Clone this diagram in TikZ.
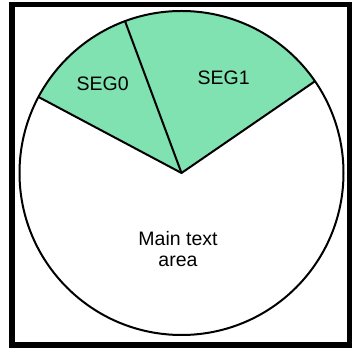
\documentclass[tikz,border=0pt]{standalone}
\usepackage{fontspec}
\setmainfont{Liberation Sans}
\usetikzlibrary{calc}
\definecolor{segfill}{RGB}{128,226,176}
\begin{document}
\begin{tikzpicture}[x=1pt,y=1pt,
  outline/.style={draw=black,line width=2pt,line join=round},
  label/.style={font=\fontsize{19.5}{20.5}\selectfont,inner sep=0pt,align=center}]
\useasboundingbox (0,0) rectangle (357,350);
% outer frame
\draw[line width=5.5pt] (12,5) rectangle (349.5,345.5);
% circle and segment boundaries
\coordinate (c) at (181.5,177);
\def\rad{162}
\fill[segfill] (c) -- ++(34.5:\rad) arc[start angle=34.5,end angle=152,radius=\rad] -- cycle;
\draw[outline] (c) circle[radius=\rad];
\coordinate (pL) at ($(c)+(152:\rad)$);
\coordinate (pT) at ($(c)+(110.4:\rad)$);
\coordinate (pR) at ($(c)+(34.5:\rad)$);
\draw[outline] (pL) -- (c) -- (pR);
\draw[outline] (c) -- (pT);
% labels
\node[label] (seg0) at (102.7,266.7) {SEG0};
\node[label] (seg1) at (223.7,272.7) {SEG1};
\node[label] (main) at (178,101) {Main text\\area};
\end{tikzpicture}
\end{document}
